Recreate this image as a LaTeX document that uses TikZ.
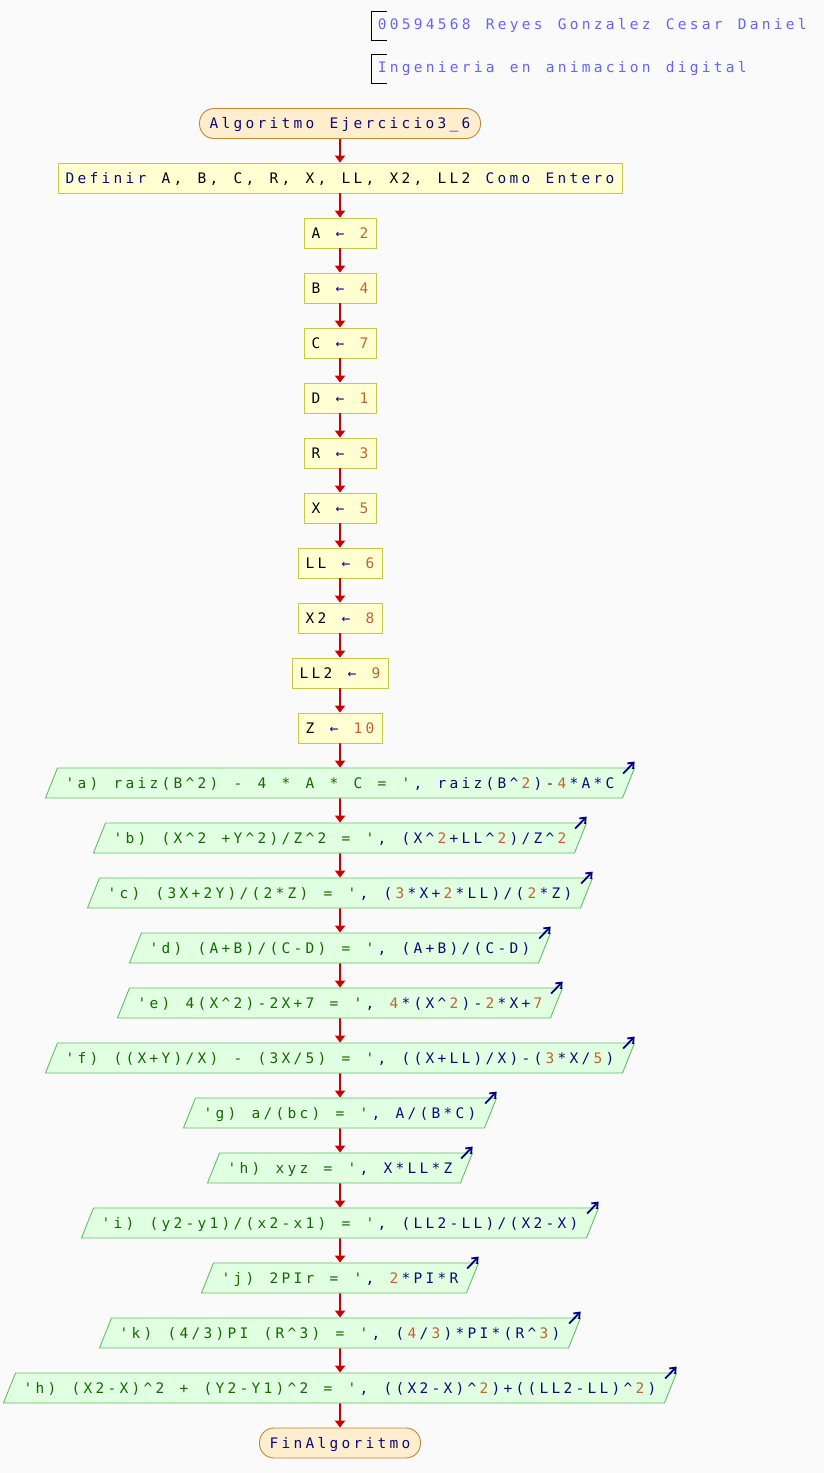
\documentclass[tikz,border=0pt]{standalone}
\usepackage{fontspec}
\newfontfamily\psfont{DejaVu Sans Mono}
\usetikzlibrary{shapes.geometric,arrows.meta}

\definecolor{bgcol}{RGB}{250,250,250}
\definecolor{cmtcol}{RGB}{100,100,255}
\definecolor{kwcol}{RGB}{10,10,120}
\definecolor{numcol}{RGB}{190,100,50}
\definecolor{strcol}{RGB}{20,105,0}
\definecolor{termfill}{RGB}{255,238,205}
\definecolor{termline}{RGB}{195,135,55}
\definecolor{procfill}{RGB}{255,255,210}
\definecolor{procline}{RGB}{200,200,70}
\definecolor{outfill}{RGB}{225,255,225}
\definecolor{outline}{RGB}{100,190,100}
\definecolor{flowcol}{RGB}{204,0,0}
\definecolor{iconcol}{RGB}{0,0,130}

% every character on a 12pt grid, as in the PSeInt drawing
\ExplSyntaxOn
\dim_new:N \l_pitch_dim
\dim_set:Nn \l_pitch_dim {12pt}
\cs_new_protected:Npn \pitch_grid:n #1
  { \str_map_inline:nn {#1} { \hbox_to_wd:nn {\l_pitch_dim} { \hss ##1 \hss } } }
\NewDocumentCommand \pl {m} { \pitch_grid:n {#1} }
\NewDocumentCommand \kw {m} { \textcolor{kwcol}{\pitch_grid:n {#1}} }
\NewDocumentCommand \nm {m} { \textcolor{numcol}{\pitch_grid:n {#1}} }
\NewDocumentCommand \st {m} { \textcolor{strcol}{\pitch_grid:n {#1}} }
\ExplSyntaxOff

\begin{document}
\begin{tikzpicture}[x=1pt,y=-1pt,
  every node/.style={font={\psfont\fontsize{14.5}{17}\selectfont},
    text height=12.6pt, text depth=2pt, inner ysep=0pt},
  termbox/.style={draw=termline, fill=termfill, rounded corners=14.5pt,
    minimum height=30pt, inner xsep=8.5pt, text=kwcol, line width=0.9pt},
  procbox/.style={draw=procline, fill=procfill, minimum height=30pt,
    inner xsep=6pt, line width=0.9pt},
  outbox/.style={trapezium, trapezium left angle=68.2, trapezium right angle=111.8,
    draw=outline, fill=outfill, inner ysep=7.7pt, inner xsep=6.5pt,
    text=kwcol, line width=0.9pt},
  flow/.style={draw=flowcol, line width=1.8pt, -{Triangle[length=7pt,width=10pt]}},
  icon/.style={draw=iconcol, line width=1.8pt, -{Straight Barb[length=5pt,width=8pt]}}]
\fill [bgcol] (0,0) rectangle (824,1473);
\useasboundingbox (0,0) rectangle (824,1473);

% comments
\node (cmt1) [anchor=west, inner xsep=0pt, text=cmtcol] at (376,24.5) {\pl{00594568 Reyes Gonzalez Cesar Daniel}};
\node (cmt2) [anchor=west, inner xsep=0pt, text=cmtcol] at (376,67.5) {\pl{Ingenieria en animacion digital}};
\draw [black, line width=0.9pt] (387,11) -- (371,11) -- (371,40) -- (387,40);
\draw [black, line width=0.9pt] (387,54) -- (371,54) -- (371,83) -- (387,83);

% start and declarations
\node (start) [termbox] at (340,123.5) {\pl{Algoritmo Ejercicio3_6}};
\node (def) [procbox] at (340,178) {\kw{Definir}\pl{ A, B, C, R, X, LL, X2, LL2 }\kw{Como Entero}};

% assignments
\node (A) [procbox] at (340,233) {\pl{A }\kw{←}\pl{ }\nm{2}};
\node (B) [procbox] at (340,288) {\pl{B }\kw{←}\pl{ }\nm{4}};
\node (C) [procbox] at (340,343) {\pl{C }\kw{←}\pl{ }\nm{7}};
\node (D) [procbox] at (340,398) {\pl{D }\kw{←}\pl{ }\nm{1}};
\node (R) [procbox] at (340,453) {\pl{R }\kw{←}\pl{ }\nm{3}};
\node (X) [procbox] at (340,508) {\pl{X }\kw{←}\pl{ }\nm{5}};
\node (LL) [procbox] at (340,563) {\pl{LL }\kw{←}\pl{ }\nm{6}};
\node (X2) [procbox] at (340,618) {\pl{X2 }\kw{←}\pl{ }\nm{8}};
\node (LL2) [procbox] at (340,673) {\pl{LL2 }\kw{←}\pl{ }\nm{9}};
\node (Z) [procbox] at (340,728) {\pl{Z }\kw{←}\pl{ }\nm{10}};

% outputs
\node (oa) [outbox] at (340,783) {\st{'a) raiz(B^2) - 4 * A * C = '}\pl{, raiz(B^}\nm{2}\pl{)-}\nm{4}\pl{*A*C}};
\node (ob) [outbox] at (340,838) {\st{'b) (X^2 +Y^2)/Z^2 = '}\pl{, (X^}\nm{2}\pl{+LL^}\nm{2}\pl{)/Z^}\nm{2}};
\node (oc) [outbox] at (340,893) {\st{'c) (3X+2Y)/(2*Z) = '}\pl{, (}\nm{3}\pl{*X+}\nm{2}\pl{*LL)/(}\nm{2}\pl{*Z)}};
\node (od) [outbox] at (340,948) {\st{'d) (A+B)/(C-D) = '}\pl{, (A+B)/(C-D)}};
\node (oe) [outbox] at (340,1003) {\st{'e) 4(X^2)-2X+7 = '}\pl{, }\nm{4}\pl{*(X^}\nm{2}\pl{)-}\nm{2}\pl{*X+}\nm{7}};
\node (of) [outbox] at (340,1058) {\st{'f) ((X+Y)/X) - (3X/5) = '}\pl{, ((X+LL)/X)-(}\nm{3}\pl{*X/}\nm{5}\pl{)}};
\node (og) [outbox] at (340,1113) {\st{'g) a/(bc) = '}\pl{, A/(B*C)}};
\node (oh) [outbox] at (340,1168) {\st{'h) xyz = '}\pl{, X*LL*Z}};
\node (oi) [outbox] at (340,1223) {\st{'i) (y2-y1)/(x2-x1) = '}\pl{, (LL2-LL)/(X2-X)}};
\node (oj) [outbox] at (340,1278) {\st{'j) 2PIr = '}\pl{, }\nm{2}\pl{*PI*R}};
\node (ok) [outbox] at (340,1333) {\st{'k) (4/3)PI (R^3) = '}\pl{, (}\nm{4}\pl{/}\nm{3}\pl{)*PI*(R^}\nm{3}\pl{)}};
\node (ol) [outbox] at (340,1388) {\st{'h) (X2-X)^2 + (Y2-Y1)^2 = '}\pl{, ((X2-X)^}\nm{2}\pl{)+((LL2-LL)^}\nm{2}\pl{)}};

\node (fin) [termbox] at (340,1443) {\pl{FinAlgoritmo}};

% connectors
\foreach \a/\b in {start/def, def/A, A/B, B/C, C/D, D/R, R/X, X/LL, LL/X2, X2/LL2,
  LL2/Z, Z/oa, oa/ob, ob/oc, oc/od, od/oe, oe/of, of/og, og/oh, oh/oi, oi/oj,
  oj/ok, ok/ol, ol/fin}
  \draw [flow] (\a.south) -- (\b.north);

% output marks
\foreach \o in {oa,ob,oc,od,oe,of,og,oh,oi,oj,ok,ol}
  \draw [icon] ([shift={(-12,6)}]\o.top right corner) -- ++(11.5,-12);
\end{tikzpicture}
\end{document}
